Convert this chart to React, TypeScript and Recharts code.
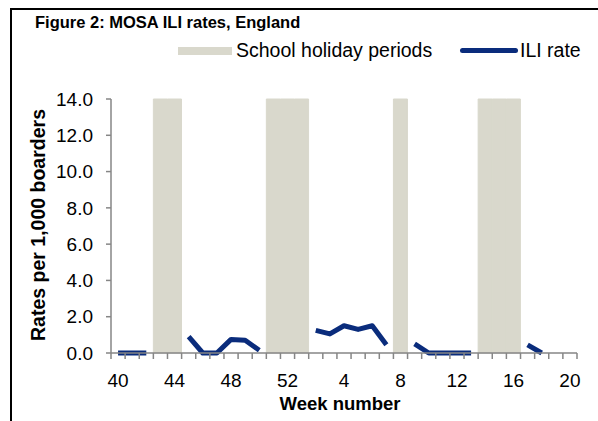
import React from "react";
import { ComposedChart, Bar, Line, XAxis, YAxis, Legend } from "recharts";

const weeks = [
  "40", "41", "42", "43", "44", "45", "46", "47", "48", "49", "50", "51", "52",
  "1", "2", "3", "4", "5", "6", "7", "8", "9", "10", "11", "12", "13", "14", "15", "16", "17", "18", "19", "20",
];
const iliRate = [
  0, 0, 0, null, null, 0.9, 0, 0, 0.75, 0.7, 0.15, null, null,
  null, 1.25, 1.05, 1.5, 1.3, 1.5, 0.45, null, 0.5, 0, 0, 0, 0, null, null, null, 0.45, 0, null, null,
];
const holidayWeeks = ["43", "44", "51", "52", "1", "8", "14", "15", "16"];
const yTicks = [0, 2, 4, 6, 8, 10, 12, 14];
const labelWeeks = ["40", "44", "48", "52", "4", "8", "12", "16", "20"];

const rows = weeks.map((w, i) => ({
  week: w,
  holiday: holidayWeeks.includes(w) ? 14 : null,
  ili: iliRate[i],
}));

const FONT = "'Liberation Sans', Arial, sans-serif";
const AXIS = "#868686";
const NAVY = "#0a2c7c";
const HOLIDAY = "#d9d8cc";

const W = 598;
const H = 421;
const PLOT_L = 111;
const PLOT_R = 577;
const BAND = (PLOT_R - PLOT_L) / weeks.length;

function WeekTick(props: any) {
  const { x, y, payload, index } = props;
  const left = x - BAND / 2;
  const last = index === weeks.length - 1;
  const show = labelWeeks.includes(String(payload.value));
  return (
    <g>
      <line x1={left} x2={left} y1={y} y2={y + 6} stroke={AXIS} strokeWidth={1.5} />
      {last && <line x1={left + BAND} x2={left + BAND} y1={y} y2={y + 6} stroke={AXIS} strokeWidth={1.5} />}
      {show && (
        <text x={x} y={y + 34} textAnchor="middle" fontSize={19} fill="#000" fontFamily={FONT}>
          {payload.value}
        </text>
      )}
    </g>
  );
}

function LegendBox() {
  return (
    <div style={{ position: "relative", width: W, height: 26, fontFamily: FONT, fontSize: 19.5, color: "#000" }}>
      <div style={{ position: "absolute", left: 178, top: 9, width: 54, height: 8, background: HOLIDAY }} />
      <div style={{ position: "absolute", left: 236, top: 0, lineHeight: "24px", whiteSpace: "nowrap" }}>
        School holiday periods
      </div>
      <div style={{ position: "absolute", left: 460, top: 10, width: 58, height: 5, borderRadius: 3, background: NAVY }} />
      <div style={{ position: "absolute", left: 520, top: 0, lineHeight: "24px", whiteSpace: "nowrap" }}>ILI rate</div>
    </div>
  );
}

export default function App() {
  return (
    <div style={{ position: "absolute", left: 0, top: 0, width: W, height: H, background: "#fff", overflow: "hidden" }}>
      <div
        style={{
          position: "absolute",
          left: 10,
          top: 8,
          width: W - 10,
          height: H - 8,
          borderTop: "2px solid #000",
          borderLeft: "2px solid #000",
          boxSizing: "border-box",
        }}
      />
      <div
        style={{
          position: "absolute",
          left: 35,
          top: 13,
          fontFamily: FONT,
          fontWeight: "bold",
          fontSize: 16.5,
          color: "#000",
          whiteSpace: "nowrap",
        }}
      >
        Figure 2: MOSA ILI rates, England
      </div>
      <ComposedChart
        width={W}
        height={H}
        data={rows}
        margin={{ top: 73, right: W - PLOT_R, bottom: 8, left: 30 }}
        barCategoryGap={0}
        barGap={0}
        style={{ position: "absolute", left: 0, top: 0 }}
      >
        <XAxis
          dataKey="week"
          interval={0}
          tickLine={false}
          tickSize={0}
          tickMargin={0}
          height={60}
          axisLine={{ stroke: AXIS, strokeWidth: 1.5 }}
          tick={<WeekTick />}
          label={{
            value: "Week number",
            position: "insideBottom",
            offset: 3,
            dx: -4,
            style: { fontFamily: FONT, fontWeight: "bold", fontSize: 18.5, fill: "#000" },
          }}
        />
        <YAxis
          width={81}
          domain={[0, 14]}
          ticks={yTicks}
          interval={0}
          tickSize={5}
          tickMargin={13}
          tickFormatter={(v: number) => v.toFixed(1)}
          tick={{ fontFamily: FONT, fontSize: 19, fill: "#000" }}
          axisLine={{ stroke: AXIS, strokeWidth: 1.5 }}
          tickLine={{ stroke: AXIS, strokeWidth: 1.5 }}
          label={{
            value: "Rates per 1,000 boarders",
            angle: -90,
            position: "center",
            dx: -32,
            dy: -1,
            style: { fontFamily: FONT, fontWeight: "bold", fontSize: 19.5, fill: "#000" },
          }}
        />
        <Legend
          verticalAlign="top"
          wrapperStyle={{ position: "absolute", top: 38, left: 0, width: W }}
          content={() => <LegendBox />}
        />
        <Bar
          dataKey="holiday"
          name="School holiday periods"
          fill={HOLIDAY}
          stroke={HOLIDAY}
          strokeWidth={1}
          isAnimationActive={false}
        />
        <Line
          dataKey="ili"
          name="ILI rate"
          stroke={NAVY}
          strokeWidth={5}
          dot={false}
          activeDot={false}
          connectNulls={false}
          strokeLinejoin="round"
          isAnimationActive={false}
        />
      </ComposedChart>
    </div>
  );
}
